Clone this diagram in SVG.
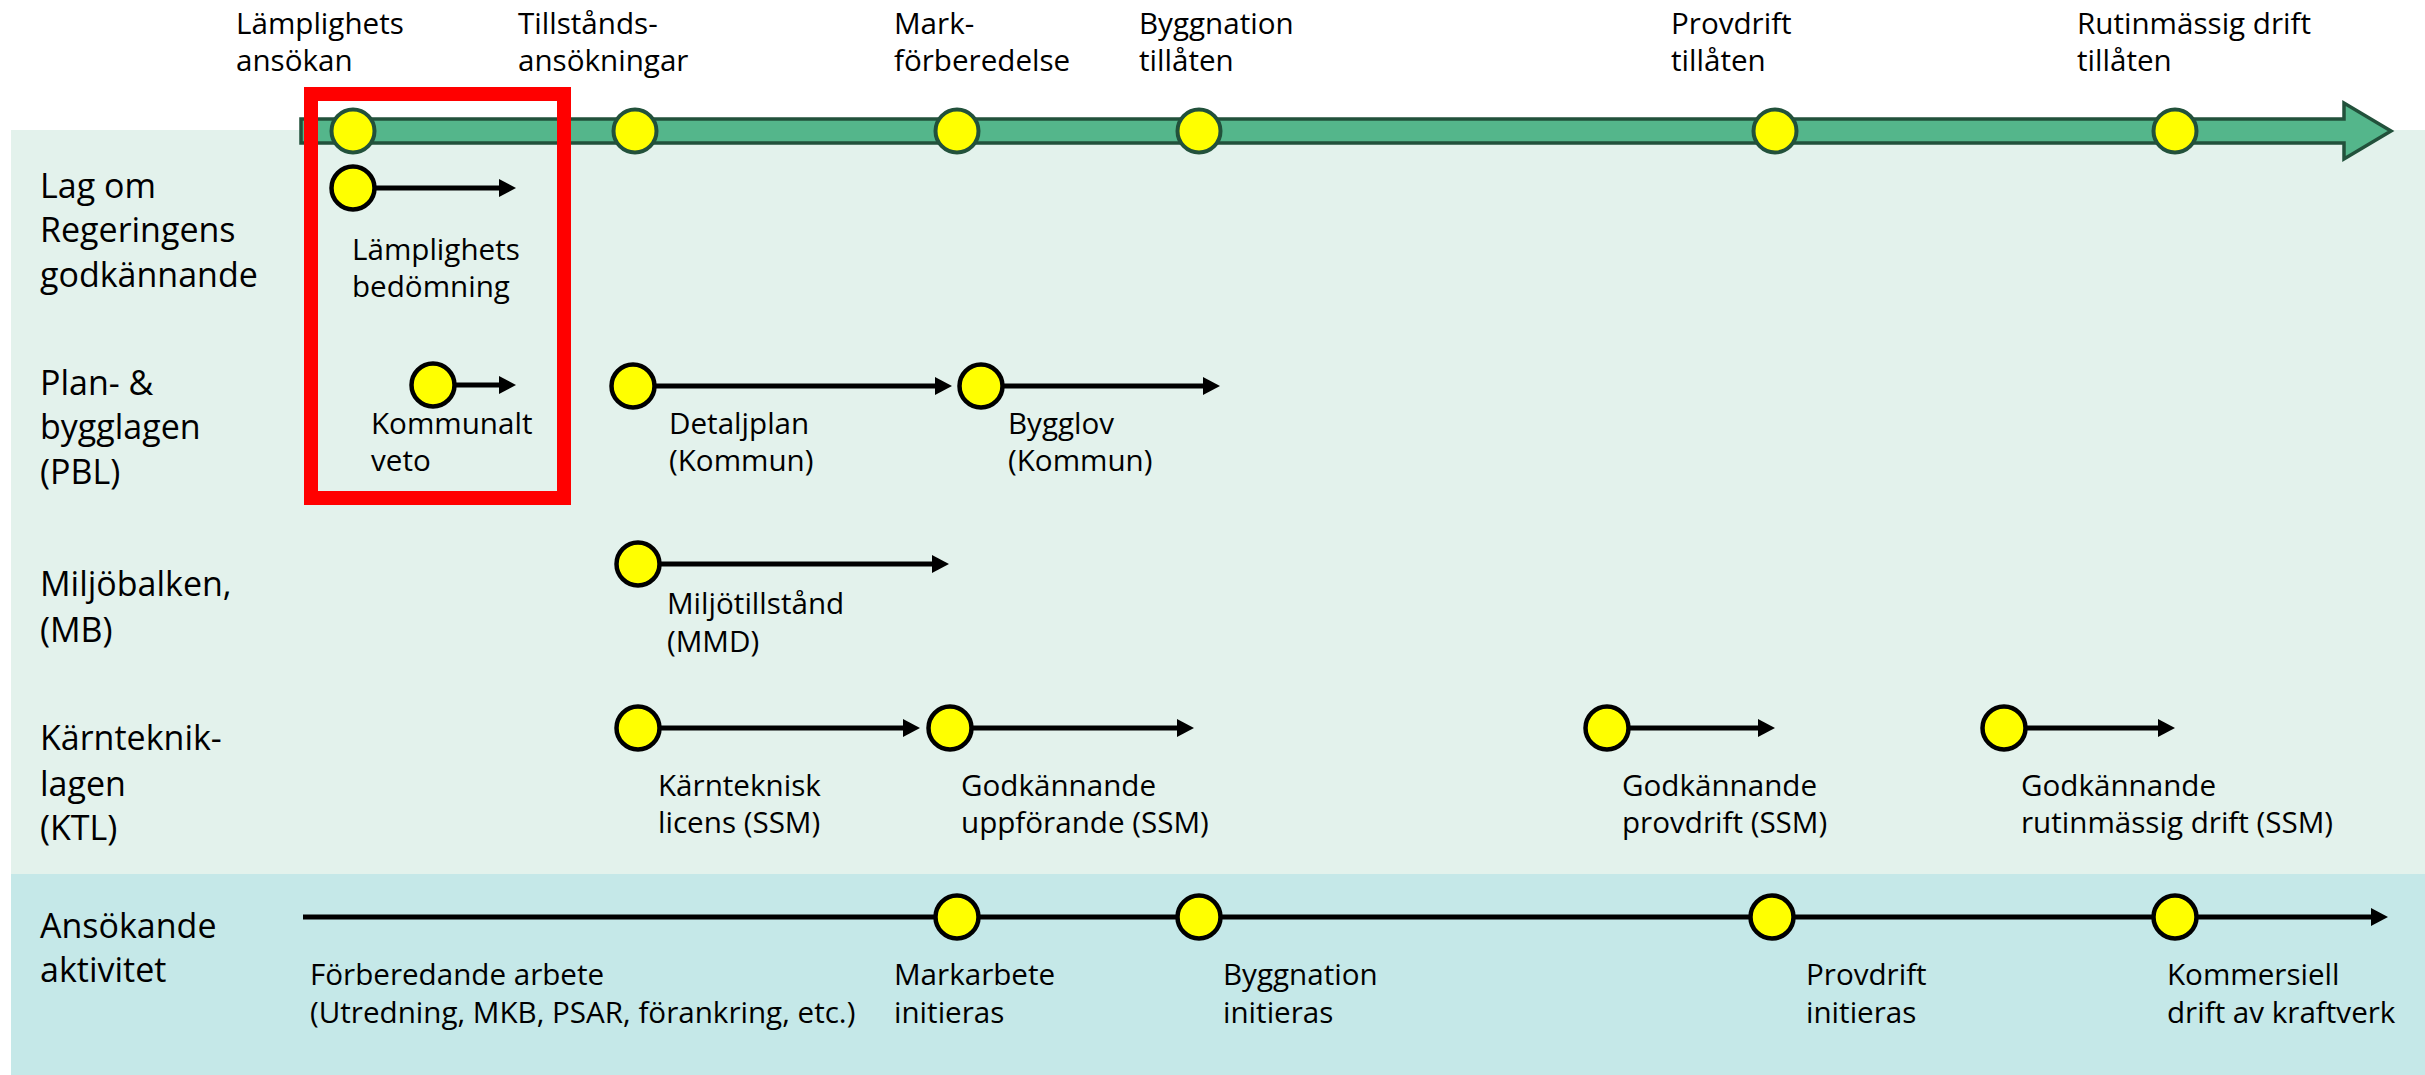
<svg xmlns="http://www.w3.org/2000/svg" width="2425" height="1075" viewBox="0 0 2425 1075">
<defs>
<style>
text{font-family:"Open Sans","Liberation Sans",Arial,sans-serif;fill:#000}
.t{font-size:29.6px}
.l{font-size:34px}
.ms{fill:#ffff00;stroke:#22513b;stroke-width:4}
.st{fill:#ffff00;stroke:#000;stroke-width:4.5}
.ln{stroke:#000;stroke-width:5;fill:none}
</style>
<marker id="ah" viewBox="0 0 17 18" markerWidth="17" markerHeight="18" refX="7" refY="9" orient="auto" markerUnits="userSpaceOnUse">
<path d="M0,0 L17,9 L0,18 z" fill="#000"/>
</marker>
</defs>
<rect x="0" y="0" width="2425" height="1075" fill="#fff"/>
<g id="bands">
<rect x="11" y="130" width="2414" height="744" fill="#e3f2ec"/>
<rect x="11" y="874" width="2414" height="201" fill="#c5e8e8"/>
</g>
<g id="timeline">
<polygon points="301,119 2344,119 2344,103 2391,131 2344,159 2344,143 301,143" fill="#54b68b" stroke="#22513b" stroke-width="3.5"/>
</g>
<g id="connectors">
<line class="ln" x1="353" y1="188" x2="506" y2="188" marker-end="url(#ah)"/>
<line class="ln" x1="433" y1="385" x2="506" y2="385" marker-end="url(#ah)"/>
<line class="ln" x1="633" y1="386" x2="942" y2="386" marker-end="url(#ah)"/>
<line class="ln" x1="981" y1="386" x2="1210" y2="386" marker-end="url(#ah)"/>
<line class="ln" x1="638" y1="564" x2="939" y2="564" marker-end="url(#ah)"/>
<line class="ln" x1="638" y1="728" x2="910" y2="728" marker-end="url(#ah)"/>
<line class="ln" x1="950" y1="728" x2="1184" y2="728" marker-end="url(#ah)"/>
<line class="ln" x1="1607" y1="728" x2="1765" y2="728" marker-end="url(#ah)"/>
<line class="ln" x1="2004" y1="728" x2="2165" y2="728" marker-end="url(#ah)"/>
<line class="ln" x1="303" y1="917" x2="2378" y2="917" marker-end="url(#ah)"/>
</g>
<g id="row-labels">
<g id="row-lag"><text class="l" x="40" y="198">Lag om</text><text class="l" x="40" y="242">Regeringens</text><text class="l" x="40" y="287">godkännande</text></g>
<g id="row-pbl"><text class="l" x="40" y="395">Plan- &amp;</text><text class="l" x="40" y="439">bygglagen</text><text class="l" x="40" y="484">(PBL)</text></g>
<g id="row-mb"><text class="l" x="40" y="596">Miljöbalken,</text><text class="l" x="40" y="642">(MB)</text></g>
<g id="row-ktl"><text class="l" x="40" y="750">Kärnteknik-</text><text class="l" x="40" y="796">lagen</text><text class="l" x="40" y="840">(KTL)</text></g>
<g id="row-ans"><text class="l" x="40" y="938">Ansökande</text><text class="l" x="40" y="982">aktivitet</text></g>
</g>
<g id="m1"><circle class="ms" cx="353" cy="131" r="21.5"/><text class="t" x="236" y="34">Lämplighets</text><text class="t" x="236" y="71">ansökan</text></g>
<g id="m2"><circle class="ms" cx="635" cy="131" r="21.5"/><text class="t" x="518" y="34">Tillstånds-</text><text class="t" x="518" y="71">ansökningar</text></g>
<g id="m3"><circle class="ms" cx="957" cy="131" r="21.5"/><text class="t" x="894" y="34">Mark-</text><text class="t" x="894" y="71">förberedelse</text></g>
<g id="m4"><circle class="ms" cx="1199" cy="131" r="21.5"/><text class="t" x="1139" y="34">Byggnation</text><text class="t" x="1139" y="71">tillåten</text></g>
<g id="m5"><circle class="ms" cx="1775" cy="131" r="21.5"/><text class="t" x="1671" y="34">Provdrift</text><text class="t" x="1671" y="71">tillåten</text></g>
<g id="m6"><circle class="ms" cx="2175" cy="131" r="21.5"/><text class="t" x="2077" y="34">Rutinmässig drift</text><text class="t" x="2077" y="71">tillåten</text></g>
<g id="s-lamp"><circle class="st" cx="353" cy="188" r="21.5"/><text class="t" x="352" y="260">Lämplighets</text><text class="t" x="352" y="297">bedömning</text></g>
<g id="s-veto"><circle class="st" cx="433" cy="385" r="21.5"/><text class="t" x="371" y="434">Kommunalt</text><text class="t" x="371" y="471">veto</text></g>
<g id="s-detalj"><circle class="st" cx="633" cy="386" r="21.5"/><text class="t" x="669" y="434">Detaljplan</text><text class="t" x="669" y="471">(Kommun)</text></g>
<g id="s-bygglov"><circle class="st" cx="981" cy="386" r="21.5"/><text class="t" x="1008" y="434">Bygglov</text><text class="t" x="1008" y="471">(Kommun)</text></g>
<g id="s-miljo"><circle class="st" cx="638" cy="564" r="21.5"/><text class="t" x="667" y="614">Miljötillstånd</text><text class="t" x="667" y="652">(MMD)</text></g>
<g id="s-licens"><circle class="st" cx="638" cy="728" r="21.5"/><text class="t" x="658" y="796">Kärnteknisk</text><text class="t" x="658" y="833">licens (SSM)</text></g>
<g id="s-uppf"><circle class="st" cx="950" cy="728" r="21.5"/><text class="t" x="961" y="796">Godkännande</text><text class="t" x="961" y="833">uppförande (SSM)</text></g>
<g id="s-prov"><circle class="st" cx="1607" cy="728" r="21.5"/><text class="t" x="1622" y="796">Godkännande</text><text class="t" x="1622" y="833">provdrift (SSM)</text></g>
<g id="s-rutin"><circle class="st" cx="2004" cy="728" r="21.5"/><text class="t" x="2021" y="796">Godkännande</text><text class="t" x="2021" y="833">rutinmässig drift (SSM)</text></g>
<g id="a-forb"><text class="t" x="310" y="985">Förberedande arbete</text><text class="t" x="310" y="1023">(Utredning, MKB, PSAR, förankring, etc.)</text></g>
<g id="a-mark"><circle class="st" cx="957" cy="917" r="21.5"/><text class="t" x="894" y="985">Markarbete</text><text class="t" x="894" y="1023">initieras</text></g>
<g id="a-bygg"><circle class="st" cx="1199" cy="917" r="21.5"/><text class="t" x="1223" y="985">Byggnation</text><text class="t" x="1223" y="1023">initieras</text></g>
<g id="a-prov"><circle class="st" cx="1772" cy="917" r="21.5"/><text class="t" x="1806" y="985">Provdrift</text><text class="t" x="1806" y="1023">initieras</text></g>
<g id="a-komm"><circle class="st" cx="2175" cy="917" r="21.5"/><text class="t" x="2167" y="985">Kommersiell</text><text class="t" x="2167" y="1023">drift av kraftverk</text></g>
<g id="highlight">
<rect x="311" y="94" width="253" height="404" fill="none" stroke="#ff0000" stroke-width="14"/>
</g>
</svg>
